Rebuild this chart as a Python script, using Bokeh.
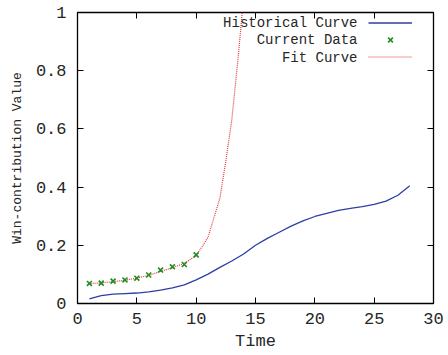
from bokeh.plotting import figure
from bokeh.models import (Range1d, LinearAxis, FixedTicker, CustomJSTickFormatter,
                          Legend, LegendItem, Label, CustomLabelingPolicy)
from bokeh.embed import file_html
from bokeh.resources import INLINE

# ---- data ----
hist_t = list(range(1, 29))
hist_v = [0.016, 0.027, 0.032, 0.034, 0.036, 0.040, 0.046, 0.054, 0.064, 0.081,
          0.101, 0.124, 0.146, 0.170, 0.200, 0.224, 0.245, 0.266, 0.284, 0.299,
          0.310, 0.320, 0.327, 0.333, 0.341, 0.352, 0.372, 0.405]

cur_t = [1, 2, 3, 4, 5, 6, 7, 8, 9, 10]
cur_v = [0.069, 0.070, 0.077, 0.081, 0.087, 0.098, 0.115, 0.126, 0.134, 0.167]

fit_t = [1, 2, 3, 4, 5, 6, 7, 8, 9, 10, 10.5, 11, 11.5, 12, 12.5, 13, 13.5, 14]
fit_v = [0.068, 0.071, 0.075, 0.080, 0.087, 0.097, 0.110, 0.123, 0.138, 0.165,
         0.195, 0.228, 0.295, 0.362, 0.490, 0.630, 0.830, 1.050]

x_ticks = [0, 5, 10, 15, 20, 25, 30]
y_ticks = [0, 0.2, 0.4, 0.6, 0.8, 1]
legend_labels = ["Historical Curve", "Current Data", "Fit Curve"]

FONT = "Liberation Mono"
TXT = "#262626"

p = figure(width=448, height=355, output_backend="svg", toolbar_location=None,
           x_range=Range1d(0, 30), y_range=Range1d(0, 1),
           min_border_left=77, min_border_right=15, min_border_top=12, min_border_bottom=52)
p.grid.visible = False
p.outline_line_color = "black"
p.outline_line_width = 1.3
p.background_fill_color = "white"
p.border_fill_color = "white"

fmt = CustomJSTickFormatter(code="return tick.toString();")

for ax in p.xaxis + p.yaxis:
    ax.major_tick_in = 6
    ax.major_tick_out = 0
    ax.minor_tick_line_color = None
    ax.axis_line_color = None
    ax.major_tick_line_color = "black"
    ax.major_label_text_font = FONT
    ax.major_label_text_font_size = "17px"
    ax.major_label_text_color = TXT
    ax.axis_label_text_font = FONT
    ax.axis_label_text_font_style = "normal"
    ax.axis_label_text_color = TXT
    ax.formatter = fmt

p.xaxis.ticker = FixedTicker(ticks=x_ticks)
p.yaxis.ticker = FixedTicker(ticks=y_ticks)
p.xaxis.axis_label = "Time"
p.xaxis.axis_label_text_font_size = "17px"
p.xaxis.major_label_standoff = 9
p.xaxis.axis_label_standoff = 5
p.yaxis.axis_label = "Win-contribution Value"
p.yaxis.axis_label_text_font_size = "13px"
p.yaxis.major_label_standoff = 11
p.yaxis.axis_label_standoff = 8

# mirrored ticks on top and right (no labels drawn)
no_labels = CustomLabelingPolicy(code="""
    for (const i of Array.from(indices)) indices.unset(i);
    return indices;
""")
top = LinearAxis(ticker=FixedTicker(ticks=x_ticks), major_tick_in=6, major_tick_out=0,
                 minor_tick_line_color=None, axis_line_color=None,
                 major_label_policy=no_labels, major_label_text_font_size="1px",
                 major_label_standoff=0)
right = LinearAxis(ticker=FixedTicker(ticks=y_ticks), major_tick_in=6, major_tick_out=0,
                   minor_tick_line_color=None, axis_line_color=None,
                   major_label_policy=no_labels, major_label_text_font_size="1px",
                   major_label_standoff=0)
p.add_layout(top, "above")
p.add_layout(right, "right")

r_hist = p.line(hist_t, hist_v, line_color="#2d3fa5", line_width=1.3)
r_fit = p.line(fit_t, fit_v, line_color="#e23a3a", line_width=1.2, line_dash="1 1")
r_cur = p.scatter(cur_t, cur_v, marker="x", size=7, line_color="#1f8c1f", line_width=1.6)

# gnuplot-style key: samples on the right, text right-aligned on their left
legend = Legend(items=[LegendItem(label=" ", renderers=[r_hist]),
                       LegendItem(label=" ", renderers=[r_cur]),
                       LegendItem(label=" ", renderers=[r_fit])],
                location=(291, 238), glyph_width=44, glyph_height=17, spacing=0,
                padding=0, margin=0, label_standoff=0, label_text_font_size="1px",
                border_line_color=None, background_fill_alpha=0)
p.add_layout(legend, "center")

for i, txt in enumerate(legend_labels):
    p.add_layout(Label(x=280, y=280.5 - 17.3 * i, x_units="screen", y_units="screen",
                       text=txt, text_align="right", text_baseline="middle",
                       text_font=FONT, text_font_size="14px", text_color=TXT))

open("out.html", "w").write(file_html(p, INLINE))
